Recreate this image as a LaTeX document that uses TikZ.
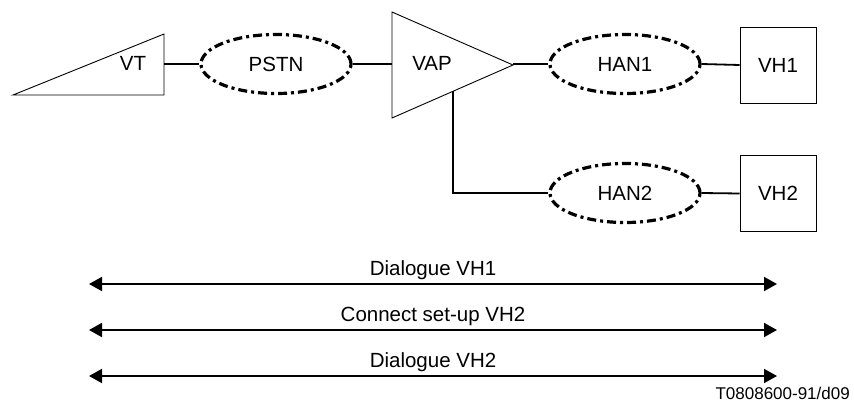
\documentclass[tikz,border=0pt]{standalone}
\usepackage{fontspec}
\setmainfont{Liberation Sans}
\usetikzlibrary{shapes.geometric,arrows.meta}
\tikzset{
    net/.style={ellipse, draw, line width=3.2pt, dash pattern=on 9pt off 4pt on 3pt off 4pt, minimum width=150pt, minimum height=59pt, inner sep=0pt},
    term/.style={draw, line width=0.9pt, minimum size=76pt, inner sep=0pt},
    wire/.style={line width=1.8pt},
    flow/.style={line width=1.9pt, {Triangle[length=13pt,width=14pt]}-{Triangle[length=13pt,width=14pt]}}
}
\newcommand{\lbl}{\fontsize{20.5}{24}\selectfont}

\begin{document}
\begin{tikzpicture}[x=1pt, y=-1pt]
                \useasboundingbox (0,0) rectangle (854,404);

                % terminal and amplifier
                \draw[line width=0.9pt] (13,95) -- (164,34) -- (164,95) -- cycle;
                \node (vt) at (133,63) {\lbl VT};
                \coordinate (vtout) at (164,64);
                \draw[line width=0.9pt] (392,12) -- (513,65) -- (392,118) -- cycle;
                \node (vap) at (432,63) {\lbl VAP};
                \coordinate (vapin) at (392,64);
                \coordinate (vapout) at (513,64);
                \coordinate (vapdown) at (453,91);

                \node[net] (pstn) at (276,64) {\lbl PSTN};
                \node[net] (hanone) at (625,64) {\lbl HAN1};
                \node[net] (hantwo) at (625,193) {\lbl HAN2};
                \node[term] (vhone) at (778,65) {\lbl VH1};
                \node[term] (vhtwo) at (778,193.5) {\lbl VH2};

                \draw[wire] (vtout) -- (pstn.west);
                \draw[wire] (pstn.east) -- (vapin);
                \draw[wire] (vapout) -- (hanone.west);
                \draw[wire] (hanone.east) -- (vhone.west);
                \draw[wire] (vapdown) |- (hantwo.west);
                \draw[wire] (hantwo.east) -- (vhtwo.west);

                % message flows
                \foreach \y/\txt [count=\i] in {284/Dialogue VH1, 330/Connect set-up VH2, 376/Dialogue VH2} {
                    \coordinate (from\i) at (89,\y);
                    \coordinate (to\i) at (777,\y);
                    \draw[flow] (from\i) -- (to\i);
                    \node[anchor=base, inner sep=0pt] (msg\i) at (433,\y-9) {\lbl \txt};
                }

                \node[anchor=base east, inner sep=0pt] (ref) at (850,399) {\fontsize{17}{20}\selectfont T0808600-91/d09};
            \end{tikzpicture}
\end{document}
